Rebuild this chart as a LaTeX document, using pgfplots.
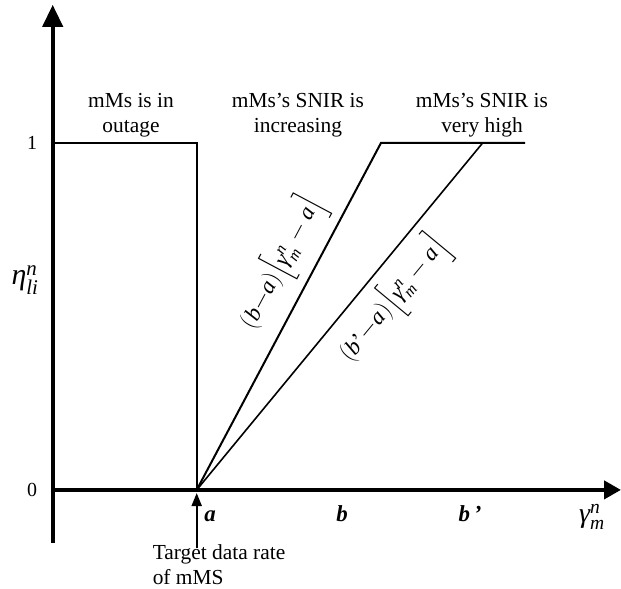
\documentclass[border=0pt]{standalone}
\usepackage{amsmath}
\usepackage{fontspec}
\setmainfont{Liberation Serif}
\usepackage{pgfplots}
\pgfplotsset{compat=1.18}
\usetikzlibrary{arrows.meta}
\newcommand{\ti}[1]{\text{\itshape #1}}
\begin{document}
\begin{tikzpicture}
\useasboundingbox (0,0) rectangle (621bp,589bp);
\begin{axis}[
  at={(52.7bp,46bp)}, anchor=south west,
  x=1bp, y=347bp,
  xmin=0, xmax=568.3, ymin=-0.153, ymax=1.398,
  axis lines=middle, enlargelimits=false, clip=false,
  axis line style={line width=4bp},
  every inner x axis line/.append style={-{Triangle[length=17bp,width=18bp]}},
  every inner y axis line/.append style={-{Triangle[length=22bp,width=20bp]}},
  xtick={157.3,289.3,417.3},
  xticklabels={\textbf{\textit{a}},\textbf{\textit{b}},\textbf{\textit{b\,’}}},
  ytick={0,1}, yticklabels={0,1},
  major tick length=0pt,
  hide obscured x ticks=false, hide obscured y ticks=false,
  xticklabel style={font=\fontsize{23}{26}\selectfont, anchor=base, yshift=-32bp},
  yticklabel style={font=\fontsize{20}{24}\selectfont, xshift=-12bp},
  /pgf/number format/assume math mode=true,
]
\addplot[line width=2bp] coordinates {(0,1) (144,1) (144,0)};
\addplot[line width=2bp] coordinates {(144,0) (328.3,1) (472.3,1)};
\addplot[line width=1.6bp] coordinates {(144,0) (430,1)};
\addplot[line width=2bp, -{Triangle[length=13bp,width=10bp]}] coordinates {(144,-0.167) (144,-0.009)};

\node[align=center, font=\fontsize{21.5}{25}\selectfont] at (axis cs:78.3,1.079) {mMs is in\\outage};
\node[align=center, font=\fontsize{21.5}{25}\selectfont] at (axis cs:245.3,1.08) {mMs’s SNIR is\\increasing};
\node[align=center, font=\fontsize{21.5}{25}\selectfont] at (axis cs:429.3,1.08) {mMs’s SNIR is\\very high};
\node[align=left, font=\fontsize{21.5}{25}\selectfont] at (axis cs:166.3,-0.216) {Target data rate\\of mMS};

\node[font=\fontsize{30}{32}\selectfont] at (axis cs:-27.7,0.605) {$\ti{η}^{\ti{n}}_{\ti{li}}$};
\node[font=\fontsize{28}{32}\selectfont] at (axis cs:539.3,-0.078) {$\ti{γ}^{\ti{n}}_{\ti{m}}$};

\node[rotate=62, font=\fontsize{23}{26}\selectfont] at (axis cs:229.3,0.654) {$(\mathit{b}{-}\mathit{a})\Bigl[\ti{γ}^{\ti{n}}_{\ti{m}}-\mathit{a}\Bigr]$};
\node[rotate=50.4, font=\fontsize{23}{26}\selectfont] at (axis cs:341.3,0.548) {$(\mathit{b}\text{’}{-}\mathit{a})\Bigl[\ti{γ}^{\ti{n}}_{\ti{m}}-\mathit{a}\Bigr]$};
\end{axis}
\end{tikzpicture}
\end{document}
